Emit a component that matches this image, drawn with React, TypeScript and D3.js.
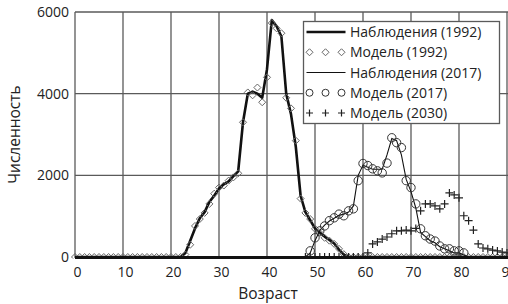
import React, { useRef, useEffect } from "react";
import * as d3 from "d3";

// age categories 0..90 (one point per year of age)
const ageTicks = [0, 10, 20, 30, 40, 50, 60, 70, 80, 90];
const valueTicks = [0, 2000, 4000, 6000];

// observations 1992, ages 0..90
const obs1992 = [
  0, 0, 0, 0, 0, 0, 0, 0, 0, 0, 0, 0, 0, 0, 0, 0, 0, 0, 0, 0, 0, 0, 0,
  100, 400, 700, 950, 1100, 1350, 1500, 1680, 1780, 1850, 1980, 2100, 3300, 4000, 4050, 4000,
  3900, 4600, 5800, 5650, 5400, 4000, 3500, 2700, 1500, 1100, 900, 700, 600, 500, 420, 330, 180, 60,
  0, 0, 0, 0, 0, 0, 0, 0, 0, 0, 0, 0, 0, 0, 0, 0, 0, 0, 0, 0, 0, 0, 0, 0, 0, 0, 0, 0, 0, 0, 0, 0, 0, 0,
];

// model 1992, ages 0..90
const mod1992 = [
  0, 0, 0, 0, 0, 0, 0, 0, 0, 0, 0, 0, 0, 0, 0, 0, 0, 0, 0, 0, 0, 0, 0,
  60, 300, 760, 930, 1080, 1300, 1550, 1700, 1750, 1870, 1950, 2050, 3300, 4030, 3960, 4150,
  3790, 4400, 5730, 5600, 5480, 3900, 3640, 2850, 1430, 1080, 930, 690, 590, 470, 400, 320, 200, 70,
  0, 0, 0, 0, 0, 0, 0, 0, 0, 0, 0, 0, 0, 0, 0, 0, 0, 0, 0, 0, 0, 0, 0, 0, 0, 0, 0, 0, 0, 0, 0, 0, 0, 0,
];

// observations 2017, ages 0..90
const obs2017 = [
  0, 0, 0, 0, 0, 0, 0, 0, 0, 0, 0, 0, 0, 0, 0, 0, 0, 0, 0, 0, 0, 0, 0, 0, 0,
  0, 0, 0, 0, 0, 0, 0, 0, 0, 0, 0, 0, 0, 0, 0, 0, 0, 0, 0, 0, 0, 0, 0, 0,
  100, 400, 650, 780, 880, 950, 1020, 1050, 1100, 1250, 2000, 2250, 2200, 2150, 2150, 2150, 2500,
  2900, 2850, 2500, 1900, 1600, 1200, 600, 500, 400, 350, 250, 200, 150, 100, 100, 50,
  0, 0, 0, 0, 0, 0, 0, 0, 0,
];

// model 2017, starts at age 49
const mod2017Start = 49;
const mod2017 = [
  150, 470, 640, 760, 890, 960, 1050, 1010, 1130, 1180, 1870, 2290, 2240, 2160, 2110, 2060, 2300,
  2920, 2800, 2680, 1870, 1700, 1300, 690, 520, 440, 390, 270, 200, 200, 150, 150, 100,
];

// model 2030, starts at age 48
const mod2030Start = 48;
const mod2030 = [
  0, 0, 0, 0, 0, 0, 0, 0, 0, 0, 0, 0, 0,
  100, 320, 370, 440, 490, 570, 640, 640, 660, 640, 700, 1130, 1300, 1300, 1250, 1180, 1300,
  1570, 1520, 1450, 1010, 890, 660, 320, 220, 200, 170, 150, 120, 100,
];

const legendLabels = [
  "Наблюдения (1992)",
  "Модель (1992)",
  "Наблюдения (2017)",
  "Модель (2017)",
  "Модель (2030)",
];

const FONT = "'Open Sans', sans-serif";

// marker shapes centred on 0,0
const diamondPath = (r: number) => `M0,${-r}L${r},0L0,${r}L${-r},0Z`;
const plusPath = (r: number) => `M${-r},0H${r}M0,${-r}V${r}`;

function App() {
  const svgRef = useRef<SVGSVGElement>(null);

  useEffect(() => {
    const width = 508;
    const svg = d3.select(svgRef.current);
    svg.selectAll("*").remove();

    const x = d3.scaleLinear().domain([0, 90]).range([75, 507]);
    const y = d3.scaleLinear().domain([0, 6000]).range([257, 12]);
    const grid = "#5a5a5a";

    // clip so that markers sitting on zero only show their top half
    svg.append("clipPath").attr("id", "plotclip")
      .append("rect").attr("x", 60).attr("y", 0).attr("width", width).attr("height", y(0) + 1.5);

    // grid
    const g = svg.append("g");
    g.selectAll("line.v")
      .data(ageTicks.filter(d => d > 0))
      .join("line")
      .attr("class", "v")
      .attr("x1", d => x(d)).attr("x2", d => x(d))
      .attr("y1", y(6000)).attr("y2", y(0))
      .attr("stroke", grid).attr("stroke-width", 1.3);
    g.selectAll("line.h")
      .data(valueTicks.filter(d => d > 0))
      .join("line")
      .attr("class", "h")
      .attr("x1", x(0)).attr("x2", width)
      .attr("y1", d => y(d)).attr("y2", d => y(d))
      .attr("stroke", grid).attr("stroke-width", 1.3);
    g.append("line")
      .attr("x1", x(0)).attr("x2", x(0)).attr("y1", y(6000)).attr("y2", y(0) + 1)
      .attr("stroke", grid).attr("stroke-width", 1.3);

    // tick labels
    svg.append("g").selectAll("text")
      .data(valueTicks)
      .join("text")
      .attr("x", 69).attr("y", d => y(d) + 5)
      .attr("text-anchor", "end")
      .attr("font-family", FONT).attr("font-size", 14).attr("fill", "#222")
      .text(d => d);
    svg.append("g").selectAll("text")
      .data(ageTicks)
      .join("text")
      .attr("x", d => x(d) + 2.5).attr("y", 277)
      .attr("text-anchor", "middle")
      .attr("font-family", FONT).attr("font-size", 14).attr("fill", "#222")
      .text(d => d);

    // axis titles
    svg.append("text")
      .attr("transform", `translate(20,${(y(0) + y(6000)) / 2}) rotate(-90)`)
      .attr("text-anchor", "middle")
      .attr("font-family", FONT).attr("font-size", 15.5).attr("fill", "#222")
      .text("Численность");
    svg.append("text")
      .attr("x", 268).attr("y", 299)
      .attr("text-anchor", "middle")
      .attr("font-family", FONT).attr("font-size", 15.5).attr("fill", "#222")
      .text("Возраст");

    const plot = svg.append("g").attr("clip-path", "url(#plotclip)");
    const line = d3.line<number>().x((d, i) => x(i)).y(d => y(d));

    // observations 1992 - thick line
    plot.append("path").datum(obs1992)
      .attr("d", line).attr("fill", "none")
      .attr("stroke", "#111").attr("stroke-width", 2.6).attr("stroke-linejoin", "round");

    // model 1992 - diamonds
    plot.append("g").selectAll("path")
      .data(mod1992)
      .join("path")
      .attr("transform", (d, i) => `translate(${x(i)},${y(d)})`)
      .attr("d", diamondPath(3.5))
      .attr("fill", "none").attr("stroke", "#666").attr("stroke-width", 1);

    // observations 2017 - thin line
    plot.append("path").datum(obs2017)
      .attr("d", line).attr("fill", "none")
      .attr("stroke", "#111").attr("stroke-width", 1.1);

    // model 2017 - circles
    plot.append("g").selectAll("circle")
      .data(mod2017)
      .join("circle")
      .attr("cx", (d, i) => x(mod2017Start + i)).attr("cy", d => y(d))
      .attr("r", 4.2)
      .attr("fill", "none").attr("stroke", "#333").attr("stroke-width", 1);

    // model 2030 - pluses
    plot.append("g").selectAll("path")
      .data(mod2030)
      .join("path")
      .attr("transform", (d, i) => `translate(${x(mod2030Start + i)},${y(d)})`)
      .attr("d", plusPath(4))
      .attr("fill", "none").attr("stroke", "#222").attr("stroke-width", 1.2);

    // dark baseline along zero
    svg.append("line")
      .attr("x1", x(0)).attr("x2", width).attr("y1", y(0) + 0.5).attr("y2", y(0) + 0.5)
      .attr("stroke", "#111").attr("stroke-width", 3);

    // legend
    const lg = svg.append("g").attr("transform", "translate(303.5,21.5)");
    lg.append("rect")
      .attr("width", 196).attr("height", 102)
      .attr("fill", "#fff").attr("stroke", grid).attr("stroke-width", 1.3);
    const rowY = d3.scalePoint<number>().domain(d3.range(5)).range([10.5, 91.5]);
    const sx = [6, 22, 38];

    lg.selectAll("text")
      .data(legendLabels)
      .join("text")
      .attr("x", 46.5).attr("y", (d, i) => rowY(i)! + 5)
      .attr("font-family", FONT).attr("font-size", 14).attr("fill", "#222")
      .text(d => d);

    lg.append("line").attr("x1", 3).attr("x2", 42).attr("y1", rowY(0)!).attr("y2", rowY(0)!)
      .attr("stroke", "#111").attr("stroke-width", 2.6);
    lg.append("line").attr("x1", 3).attr("x2", 42).attr("y1", rowY(2)!).attr("y2", rowY(2)!)
      .attr("stroke", "#111").attr("stroke-width", 1.1);
    lg.append("g").selectAll("path").data(sx).join("path")
      .attr("transform", d => `translate(${d},${rowY(1)})`)
      .attr("d", diamondPath(3.5)).attr("fill", "#fff").attr("stroke", "#666");
    lg.append("g").selectAll("circle").data(sx).join("circle")
      .attr("cx", d => d).attr("cy", rowY(3)!).attr("r", 3.5)
      .attr("fill", "none").attr("stroke", "#333");
    lg.append("g").selectAll("path").data(sx).join("path")
      .attr("transform", d => `translate(${d},${rowY(4)})`)
      .attr("d", plusPath(3.5)).attr("fill", "none").attr("stroke", "#222").attr("stroke-width", 1.2);
  }, []);

  return (
    <svg
      ref={svgRef}
      width={508}
      height={304}
      style={{ position: "absolute", left: 0, top: 0, background: "#fff" }}
    />
  );
}

export default App;
